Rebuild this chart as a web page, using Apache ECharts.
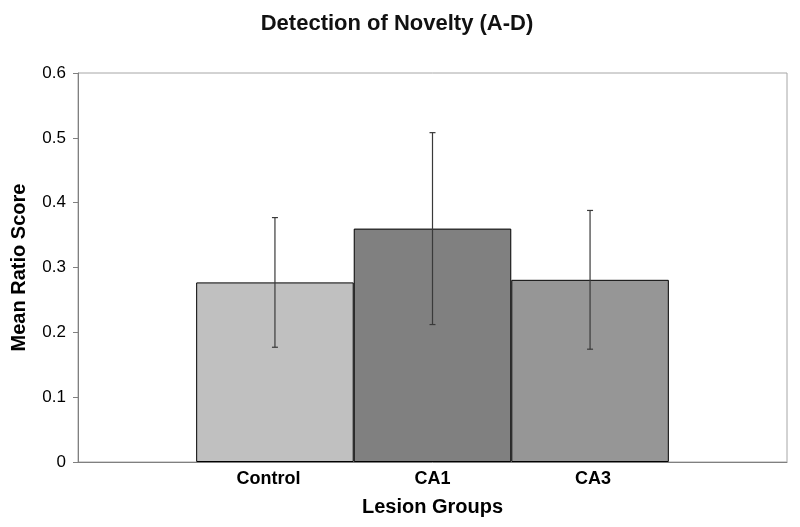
<!DOCTYPE html>
<html>
<head>
<meta charset="utf-8">
<script src="https://cdn.jsdelivr.net/npm/echarts@6/dist/echarts.min.js"></script>
<style>html,body{margin:0;padding:0;background:#fff}#c{width:800px;height:527px}</style>
</head>
<body>
<div id="c"></div>
<script>
const categories = ['Control', 'CA1', 'CA3'];
const means = [0.277, 0.360, 0.281];
const errors = [0.100, 0.148, 0.107];
const barColors = ['#c0c0c0', '#808080', '#969696'];
const yTicks = [0, 0.1, 0.2, 0.3, 0.4, 0.5, 0.6];

const chart = echarts.init(document.getElementById('c'));
const FONT = '"Liberation Sans", Arial, sans-serif';

const barData = categories.map((c, i) => ({
  value: [i, means[i]],
  itemStyle: { color: barColors[i] }
}));
const errData = categories.map((c, i) => [i, means[i] - errors[i], means[i] + errors[i]]);

chart.setOption({
  animation: false,
  backgroundColor: '#fff',
  title: {
    text: 'Detection of Novelty (A-D)',
    left: 392,
    textAlign: 'center',
    top: 8,
    textStyle: { fontFamily: FONT, fontSize: 22, fontWeight: 'bold', color: '#111' }
  },
  grid: {
    left: 78, right: 13, top: 73, bottom: 65,
    show: true, borderColor: '#a6a6a6', borderWidth: 1
  },
  xAxis: {
    type: 'value',
    min: -1.25, max: 3.25, interval: 0.25,
    axisLine: { show: true, onZero: false, lineStyle: { color: '#808080', width: 1 } },
    axisTick: { show: false },
    splitLine: { show: false },
    axisLabel: {
      margin: 8,
      formatter: function (v) {
        const i = Math.round(v);
        if (Math.abs(v - i) > 1e-6 || i < 0 || i >= categories.length) return '';
        return '{c' + i + '|' + categories[i] + '}';
      },
      rich: {
        c0: { fontFamily: FONT, fontSize: 18, fontWeight: 'bold', color: '#000', padding: [0, 13, 0, 0] },
        c1: { fontFamily: FONT, fontSize: 18, fontWeight: 'bold', color: '#000' },
        c2: { fontFamily: FONT, fontSize: 18, fontWeight: 'bold', color: '#000', padding: [0, 0, 0, 6] }
      }
    },
    name: 'Lesion Groups',
    nameLocation: 'middle',
    nameGap: 35,
    nameTextStyle: { fontFamily: FONT, fontSize: 20, fontWeight: 'bold', color: '#000' }
  },
  yAxis: {
    type: 'value',
    min: 0, max: 0.6, interval: 0.1,
    axisLine: { show: true, onZero: false, lineStyle: { color: '#808080', width: 1 } },
    axisTick: { show: true, length: 5, lineStyle: { color: '#808080' } },
    splitLine: { show: false },
    axisLabel: {
      margin: 12,
      fontFamily: FONT, fontSize: 17, color: '#000',
      formatter: function (v) {
        const t = yTicks.find(x => Math.abs(x - v) < 1e-9);
        return t === undefined ? '' : String(t);
      }
    },
    name: 'Mean Ratio Score',
    nameLocation: 'middle',
    nameGap: 49,
    nameTextStyle: { fontFamily: FONT, fontSize: 20, fontWeight: 'bold', color: '#000' }
  },
  series: [
    {
      type: 'bar',
      data: barData,
      barWidth: '100%',
      itemStyle: { borderColor: '#000', borderWidth: 1 }
    },
    {
      type: 'custom',
      data: errData,
      z: 10,
      renderItem: function (params, api) {
        const x = api.value(0);
        const lo = api.coord([x, api.value(1)]);
        const hi = api.coord([x, api.value(2)]);
        const w = 3;
        const style = { stroke: '#3a3a3a', lineWidth: 1.2 };
        return {
          type: 'group',
          children: [
            { type: 'line', shape: { x1: hi[0], y1: hi[1], x2: lo[0], y2: lo[1] }, style: style },
            { type: 'line', shape: { x1: hi[0] - w, y1: hi[1], x2: hi[0] + w, y2: hi[1] }, style: style },
            { type: 'line', shape: { x1: lo[0] - w, y1: lo[1], x2: lo[0] + w, y2: lo[1] }, style: style }
          ]
        };
      }
    }
  ]
});
</script>
</body>
</html>
